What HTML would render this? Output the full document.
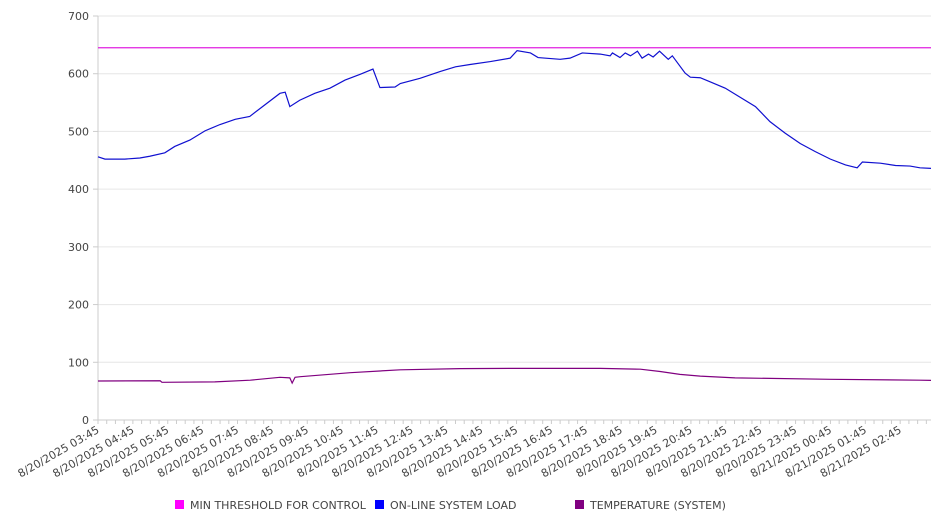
<!DOCTYPE html>
<html><head><meta charset="utf-8"><style>
body{margin:0;background:#fff;}
svg{display:block;font-family:"DejaVu Sans","Liberation Sans",sans-serif;}
</style></head><body>
<svg id="chart" width="946" height="526"></svg>
<script>
const yTicks=[0,100,200,300,400,500,600,700];
const xLabels=["8/20/2025 03:45","8/20/2025 04:45","8/20/2025 05:45","8/20/2025 06:45","8/20/2025 07:45","8/20/2025 08:45","8/20/2025 09:45","8/20/2025 10:45","8/20/2025 11:45","8/20/2025 12:45","8/20/2025 13:45","8/20/2025 14:45","8/20/2025 15:45","8/20/2025 16:45","8/20/2025 17:45","8/20/2025 18:45","8/20/2025 19:45","8/20/2025 20:45","8/20/2025 21:45","8/20/2025 22:45","8/20/2025 23:45","8/21/2025 00:45","8/21/2025 01:45","8/21/2025 02:45"];
const thresholdValue=645;
// minutes since 8/20 03:45
const loadTimes=[0,12,46,72,89,115,132,158,184,210,236,261,287,313,322,330,347,373,399,425,451,473,485,511,520,554,589,615,640,675,709,721,744,757,795,812,833,864,881,885,898,907,916,928,936,947,955,966,981,988,1010,1019,1036,1053,1079,1105,1131,1156,1182,1208,1234,1260,1286,1306,1315,1346,1372,1397,1414,1433];
const loadValues=[456,452,452,454,457,463,474,485,501,512,521,526,546,566,568,543,554,566,575,589,599,608,576,577,583,592,604,612,616,621,627,640,636,628,625,627,636,634,631,636,628,636,631,639,627,634,629,639,625,631,601,594,593,586,575,559,543,517,497,479,465,452,442,437,447,445,441,440,437,436];
const tempTimes=[0,107,110,201,262,313,330,334,339,348,434,520,623,709,864,933,967,1001,1036,1096,1260,1414,1433];
const tempValues=[67.6,68,65.3,66,69,74,73,64,74,75,82,87,89,89.5,89.5,88,84,79,76,73,70.5,69,68.7];

const W0=98,W1=931,Y0=420,Y1=16,TMAX=1433;
const xs=t=>W0+(t/TMAX)*(W1-W0);
const ys=v=>Y0-(v/700)*(Y0-Y1);
const svg=document.getElementById('chart');
const NS='http://www.w3.org/2000/svg';
function mk(tag,attrs){const e=document.createElementNS(NS,tag);for(const k in attrs)e.setAttribute(k,attrs[k]);svg.appendChild(e);return e;}

yTicks.forEach(v=>{
  const g=mk('line',{x1:W0,x2:W1,y1:ys(v),y2:ys(v),stroke:v===0?'#ccc':'#e6e6e6','stroke-width':1});
  
  
  const tk=mk('line',{x1:W0-5,x2:W0,y1:ys(v),y2:ys(v),stroke:'#ccc'});
  
  
  const t=mk('text',{x:W0-9,y:ys(v)+4,'text-anchor':'end','font-size':11,fill:'#444'});
  t.textContent=v;
  
  
});
const ax=mk('line',{x1:W0,x2:W0,y1:Y1,y2:Y0,stroke:'#ccc'});


for(let t=0;t<=TMAX;t+=15){
  const m=mk('line',{x1:xs(t),x2:xs(t),y1:Y0,y2:Y0+4,stroke:'#ccc'});
  
  
}
xLabels.forEach((l,i)=>{
  const x=xs(i*60)+2;
  const t=mk('text',{x:x,y:Y0+12,'text-anchor':'end','font-size':11,fill:'#444',transform:`rotate(-30 ${x} ${Y0+12})`});
  t.textContent=l;
  
  
});
const th=mk('line',{x1:W0,x2:W1,y1:ys(thresholdValue),y2:ys(thresholdValue),stroke:'#e020e0','stroke-width':1.2});


const lp=mk('polyline',{points:loadTimes.map((t,i)=>xs(t)+','+ys(loadValues[i])).join(' '),fill:'none',stroke:'#1010d0','stroke-width':1.2});


const tp=mk('polyline',{points:tempTimes.map((t,i)=>xs(t)+','+ys(tempValues[i])).join(' '),fill:'none',stroke:'#800080','stroke-width':1.2});



const legend=[['MIN THRESHOLD FOR CONTROL','#ff00ff',175],['ON-LINE SYSTEM LOAD','#0000ff',375],['TEMPERATURE (SYSTEM)','#800080',575]];
legend.forEach(([n,c,x])=>{
  const r=mk('rect',{x:x,y:500,width:9,height:9,fill:c});
  
  
  const t=mk('text',{x:x+15,y:509,'font-size':11,fill:'#444'});
  t.textContent=n;
  
  
});
</script>
</body></html>
